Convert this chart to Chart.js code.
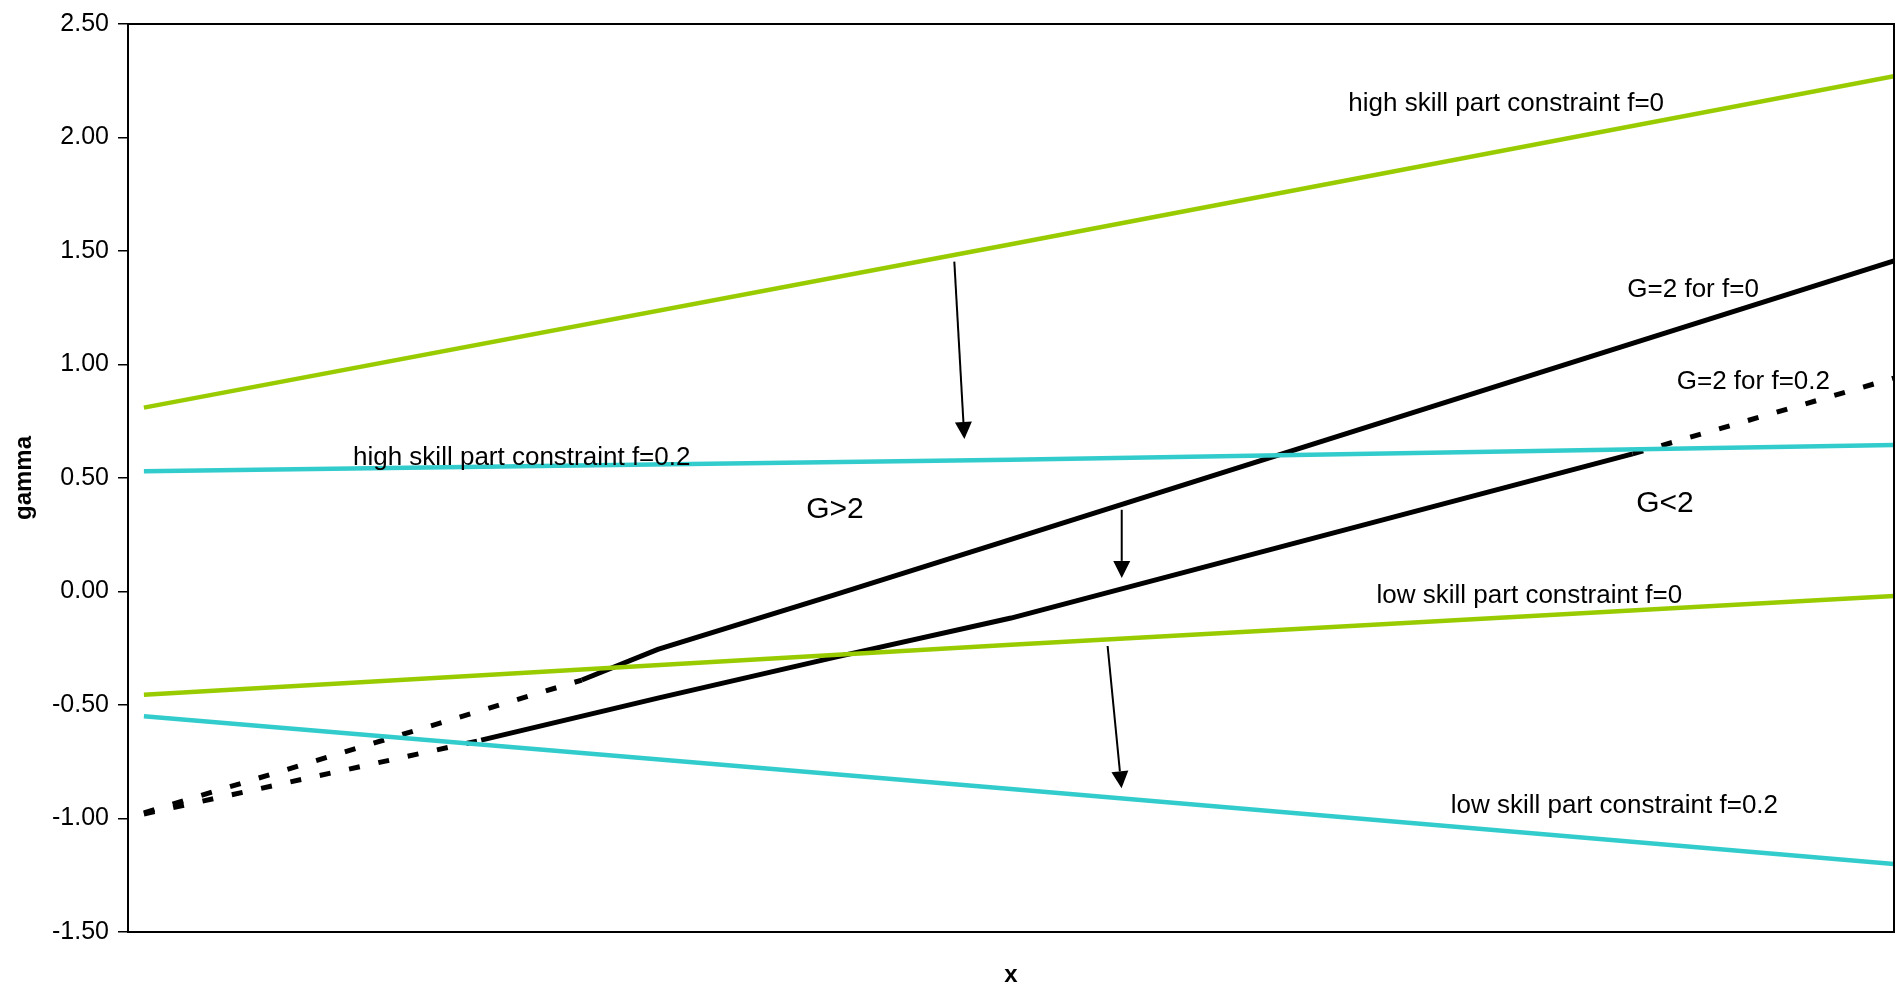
<!DOCTYPE html>
<html>
<head>
<meta charset="utf-8">
<script src="https://cdn.jsdelivr.net/npm/chart.js@4.4.1/dist/chart.umd.min.js"></script>
<style>
    body { margin: 0; background: #fff; }
    #wrap { width: 1901px; height: 990px; }
</style>
</head>
<body>
<div id="wrap"><canvas id="gammaChart"></canvas></div>
<script>
// values (x has no labels, so it runs 0..100)
const xHighF0 = [0.9, 50, 100];
const yHighF0 = [0.81, 1.53, 2.27];

const xHighF2 = [0.9, 50, 100];
const yHighF2 = [0.53, 0.58, 0.645];

const xLowF0 = [0.9, 50, 100];
const yLowF0 = [-0.455, -0.235, -0.02];

const xLowF2 = [0.9, 50, 100];
const yLowF2 = [-0.55, -0.87, -1.20];

const xG2F0 = [0.9, 25.7, 30, 40, 50, 100];
const yG2F0 = [-0.975, -0.39, -0.255, -0.015, 0.23, 1.457];
const dashG2F0 = [0];          // segments drawn dashed

const xG2F2 = [0.9, 20, 30, 40, 50, 85.2, 100];
const yG2F2 = [-0.98, -0.655, -0.47, -0.29, -0.117, 0.606, 0.94];
const dashG2F2 = [0, 5];

const yTicks = [-1.5, -1.0, -0.5, 0, 0.5, 1.0, 1.5, 2.0, 2.5];

// text on the chart: [text, x, gamma, size]
const labels = [
    ['high skill part constraint f=0', 69.1, 2.149, 26],
    ['high skill part constraint f=0.2', 12.74, 0.59, 26],
    ['G=2 for f=0', 84.9, 1.331, 26],
    ['G=2 for f=0.2', 87.7, 0.925, 26],
    ['G>2', 38.4, 0.361, 30],
    ['G<2', 85.4, 0.388, 30],
    ['low skill part constraint f=0', 70.7, -0.02, 26],
    ['low skill part constraint f=0.2', 74.9, -0.946, 26]
];

// arrows: [x0, g0, x1, g1]
const arrows = [
    [46.79, 1.453, 47.36, 0.672],
    [56.27, 0.36, 56.27, 0.06],
    [55.47, -0.24, 56.26, -0.867]
];

const GREEN = '#99CC00';
const CYAN = '#33CCCC';
const FONT = "'Liberation Sans', Arial, sans-serif";

function pts(xs, ys) {
    return xs.map((x, i) => ({ x: x, y: ys[i] }));
}

function lineSet(xs, ys, color, width, dashed) {
    return {
        data: pts(xs, ys),
        borderColor: color,
        borderWidth: width,
        pointRadius: 0,
        tension: 0,
        borderCapStyle: 'butt',
        segment: {
            borderDash: ctx => (dashed && dashed.includes(ctx.p0DataIndex)) ? [11, 19] : []
        }
    };
}

// frame, labels and arrows
const overlay = {
    id: 'overlay',
    afterDatasetsDraw(chart) {
        const ctx = chart.ctx;
        const a = chart.chartArea;
        const sx = chart.scales.x;
        const sy = chart.scales.y;
        ctx.save();
        ctx.strokeStyle = '#000';
        ctx.lineWidth = 2;
        ctx.strokeRect(a.left, a.top, a.right - a.left, a.bottom - a.top);

        ctx.fillStyle = '#000';
        ctx.textAlign = 'left';
        ctx.textBaseline = 'middle';
        labels.forEach(l => {
            ctx.font = l[3] + 'px ' + FONT;
            ctx.fillText(l[0], sx.getPixelForValue(l[1]), sy.getPixelForValue(l[2]));
        });

        arrows.forEach(ar => {
            const x0 = sx.getPixelForValue(ar[0]), y0 = sy.getPixelForValue(ar[1]);
            const x1 = sx.getPixelForValue(ar[2]), y1 = sy.getPixelForValue(ar[3]);
            const ang = Math.atan2(y1 - y0, x1 - x0);
            const head = 17, half = 8.5;
            const bx = x1 - head * Math.cos(ang), by = y1 - head * Math.sin(ang);
            ctx.lineWidth = 2;
            ctx.beginPath();
            ctx.moveTo(x0, y0);
            ctx.lineTo(bx, by);
            ctx.stroke();
            ctx.beginPath();
            ctx.moveTo(x1, y1);
            ctx.lineTo(bx + half * Math.sin(ang), by - half * Math.cos(ang));
            ctx.lineTo(bx - half * Math.sin(ang), by + half * Math.cos(ang));
            ctx.closePath();
            ctx.fill();
        });
        ctx.restore();
    }
};

new Chart(document.getElementById('gammaChart'), {
    type: 'line',
    data: {
        datasets: [
            lineSet(xHighF0, yHighF0, GREEN, 4.5),
            lineSet(xHighF2, yHighF2, CYAN, 4.5),
            lineSet(xLowF0, yLowF0, GREEN, 4.5),
            lineSet(xLowF2, yLowF2, CYAN, 4.5),
            lineSet(xG2F0, yG2F0, '#000', 5, dashG2F0),
            lineSet(xG2F2, yG2F2, '#000', 5, dashG2F2)
        ]
    },
    options: {
        responsive: true,
        maintainAspectRatio: false,
        animation: false,
        layout: { padding: { left: 0, top: 21, right: 7, bottom: 0 } },
        plugins: {
            legend: { display: false },
            tooltip: { enabled: false }
        },
        scales: {
            x: {
                type: 'linear',
                min: 0,
                max: 100,
                ticks: { display: false },
                grid: { display: false },
                border: { display: false },
                title: {
                    display: true,
                    text: 'x',
                    color: '#000',
                    font: { family: FONT, size: 24, weight: 'bold' },
                    padding: { top: 0, bottom: 0 }
                },
                afterFit(scale) { scale.height = 58; }
            },
            y: {
                min: -1.5,
                max: 2.5,
                afterBuildTicks(scale) {
                    scale.ticks = yTicks.map(v => ({ value: v }));
                },
                ticks: {
                    color: '#000',
                    padding: 9,
                    font: { family: FONT, size: 25 },
                    callback: v => v.toFixed(2)
                },
                grid: {
                    drawOnChartArea: false,
                    drawTicks: true,
                    tickLength: 10,
                    tickColor: '#000',
                    lineWidth: 1.5
                },
                border: { display: false },
                title: {
                    display: true,
                    text: 'gamma',
                    color: '#000',
                    font: { family: FONT, size: 24, weight: 'bold' },
                    padding: { top: 10, bottom: 0 }
                },
                afterFit(scale) { scale.width = 128; }
            }
        }
    },
    plugins: [overlay]
});
</script>
</body>
</html>
